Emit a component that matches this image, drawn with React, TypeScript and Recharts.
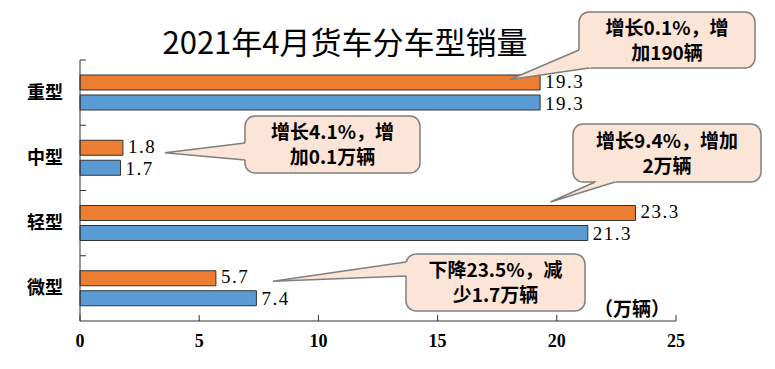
import { BarChart, Bar, XAxis, YAxis, LabelList } from "recharts";

const categories = ["重型", "中型", "轻型", "微型"];
const sales2021 = [19.3, 1.8, 23.3, 5.7];
const sales2020 = [19.3, 1.7, 21.3, 7.4];
const xTicks = [0, 5, 10, 15, 20, 25];
const notes = [
  ["增长0.1%，增", "加190辆"],
  ["增长4.1%，增", "加0.1万辆"],
  ["增长9.4%，增加", "2万辆"],
  ["下降23.5%，减", "少1.7万辆"],
];

const W = 775;
const H = 369;
const MARGIN = { top: 60, right: 99, bottom: 8, left: 0 };
const X_AXIS_H = 40;
const PLOT_H = H - MARGIN.top - MARGIN.bottom - X_AXIS_H;
const BAND = PLOT_H / categories.length;

const ORANGE = "#ED7D31";
const BLUE = "#5B9BD5";
const AXIS = "#333";
const CJK = '"Noto Sans CJK SC", sans-serif';
const SERIF = '"Liberation Serif", "DejaVu Serif", serif';

// callout boxes: [x, y, w, h]; tip offset from the orange bar end / middle; base points of the pointer
const calloutLayout = [
  { box: [579, 12, 176, 56], tip: [-30, -3], base: [[579, 50], [589, 68]] },
  { box: [245, 116, 175, 57], tip: [42, 5], base: [[245, 143], [245, 160]] },
  { box: [573, 124, 188, 58], tip: [-85, -11], base: [[595, 182], [615, 182]] },
  { box: [406, 254, 179, 57], tip: [57, 3], base: [[406, 262], [406, 276]] },
];

const data = categories.map((name, i) => ({
  name,
  y2021: sales2021[i],
  y2020: sales2020[i],
}));

function XTick(props: any) {
  const { x, y, payload } = props;
  return (
    <g>
      <line x1={x} y1={y} x2={x} y2={y - 6} stroke={AXIS} />
      <text x={x} y={y + 26} textAnchor="middle" fontFamily={SERIF} fontWeight="bold" fontSize={18} fill="#000">
        {payload.value}
      </text>
    </g>
  );
}

function YTick(props: any) {
  const { x, y, payload } = props;
  return (
    <g>
      <line x1={x} y1={y - BAND / 2} x2={x + 6} y2={y - BAND / 2} stroke={AXIS} />
      <text x={x - 17} y={y} dy={6} textAnchor="end" fontFamily={CJK} fontWeight="bold" fontSize={18} fill="#000">
        {payload.value}
      </text>
    </g>
  );
}

function ValueLabel(props: any, shift: number) {
  const { x, y, width, height, value } = props;
  return (
    <text
      x={x + width + 5}
      y={y + height / 2 + shift}
      dy={6}
      fontFamily={SERIF}
      fontSize={19}
      letterSpacing={1.5}
      fill="#000"
    >
      {value}
    </text>
  );
}

function Callout(props: any) {
  const { x, y, width, height, index } = props;
  const layout = calloutLayout[index];
  const lines = notes[index];
  if (!layout || !lines) return null;
  const [bx, by, bw, bh] = layout.box;
  const tx = x + width + layout.tip[0];
  const ty = y + height / 2 + layout.tip[1];
  const [b1, b2] = layout.base;
  const cx = bx + bw / 2;
  const cy = by + bh / 2;
  return (
    <g>
      <rect x={bx} y={by} width={bw} height={bh} rx={10} ry={10} fill="#FCE4D6" stroke="#7F7F7F" strokeWidth={1.5} />
      <polygon points={`${b1[0]},${b1[1]} ${tx},${ty} ${b2[0]},${b2[1]} ${cx},${cy}`} fill="#FCE4D6" />
      <polyline points={`${b1[0]},${b1[1]} ${tx},${ty} ${b2[0]},${b2[1]}`} fill="none" stroke="#7F7F7F" strokeWidth={1.5} />
      {lines.map((t, i) => (
        <text
          key={i}
          x={cx}
          y={cy + (i - 0.5) * 25}
          dy={7}
          textAnchor="middle"
          fontFamily={CJK}
          fontWeight="bold"
          fontSize={19}
          fill="#000"
        >
          {t}
        </text>
      ))}
    </g>
  );
}

export default function App() {
  return (
    <div style={{ position: "relative", width: W, height: H, background: "#fff" }}>
      <style>{`body{margin:0}`}</style>
      <div
        style={{
          position: "absolute",
          left: 0,
          width: 690,
          top: 21,
          textAlign: "center",
          fontFamily: CJK,
          fontSize: 31,
          lineHeight: "40px",
          color: "#000",
        }}
      >
        2021年4月货车分车型销量
      </div>
      <BarChart
        width={W}
        height={H}
        data={data}
        layout="vertical"
        margin={MARGIN}
        barSize={15}
        barGap={5}
      >
        <XAxis
          type="number"
          domain={[0, 25]}
          ticks={xTicks}
          height={X_AXIS_H}
          tickSize={0}
          tickMargin={0}
          axisLine={{ stroke: AXIS }}
          tick={(p: any) => <XTick {...p} />}
        />
        <YAxis
          type="category"
          dataKey="name"
          width={80}
          tickSize={0}
          tickMargin={0}
          axisLine={{ stroke: AXIS }}
          tick={(p: any) => <YTick {...p} />}
        />
        <Bar dataKey="y2021" fill={ORANGE} stroke={AXIS} strokeWidth={1} isAnimationActive={false}>
          <LabelList dataKey="y2021" content={(p: any) => ValueLabel(p, -1)} />
          <LabelList dataKey="y2021" content={(p: any) => <Callout {...p} />} />
        </Bar>
        <Bar dataKey="y2020" fill={BLUE} stroke={AXIS} strokeWidth={1} isAnimationActive={false}>
          <LabelList dataKey="y2020" content={(p: any) => ValueLabel(p, 1)} />
        </Bar>
      </BarChart>
      <div
        style={{
          position: "absolute",
          left: 594,
          top: 294,
          fontFamily: CJK,
          fontWeight: "bold",
          fontSize: 19,
          color: "#000",
        }}
      >
        （万辆）
      </div>
    </div>
  );
}
